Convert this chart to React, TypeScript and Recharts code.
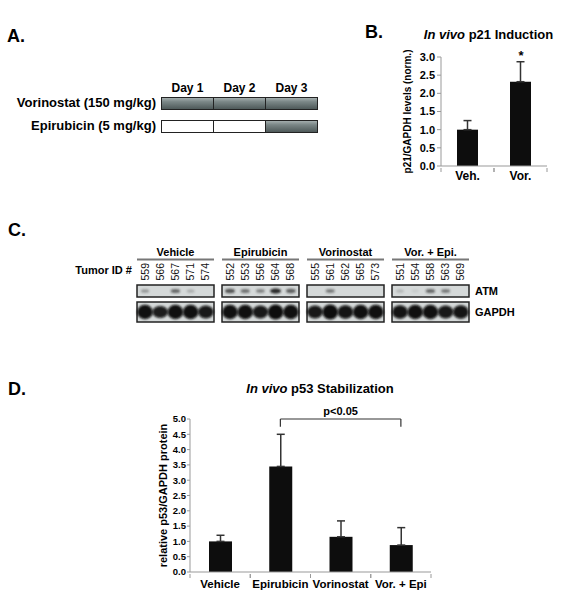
import React from 'react';
import { BarChart, Bar, XAxis, YAxis, ErrorBar, ReferenceLine } from 'recharts';

const FONT = '"Liberation Sans", Arial, Helvetica, sans-serif';

// panel A - dosing schedule
const days = ['Day 1', 'Day 2', 'Day 3'];
const regimens = ['Vorinostat (150 mg/kg)', 'Epirubicin (5 mg/kg)'];
const dosing = [
  [1, 1, 1],
  [0, 0, 1],
];

// panel B - p21 induction
const p21Groups = ['Veh.', 'Vor.'];
const p21Values = [1.0, 2.32];
const p21Errors = [0.25, 0.55];
const p21Ticks = [0, 0.5, 1, 1.5, 2, 2.5, 3];

// panel C - western blot
const blotGroups = ['Vehicle', 'Epirubicin', 'Vorinostat', 'Vor. + Epi.'];
const tumorIds = [
  ['559', '566', '567', '571', '574'],
  ['552', '553', '556', '564', '568'],
  ['555', '561', '562', '565', '573'],
  ['551', '554', '558', '563', '569'],
];
const atmLevels = [
  [0.35, 0, 0.6, 0.25, 0],
  [0.7, 0.55, 0.45, 0.95, 0.65],
  [0, 0.5, 0, 0, 0],
  [0.2, 0.08, 0.6, 0.5, 0],
];
const gapdhLevels = [
  [0.95, 0.8, 0.95, 0.95, 0.85],
  [0.95, 0.95, 0.85, 1, 0.95],
  [0.85, 1, 0.9, 0.95, 0.95],
  [0.9, 0.95, 0.95, 0.85, 0.9],
];

// panel D - p53 stabilization
const p53Groups = ['Vehicle', 'Epirubicin', 'Vorinostat', 'Vor. + Epi'];
const p53Values = [1.0, 3.45, 1.15, 0.88];
const p53Errors = [0.2, 1.05, 0.52, 0.57];
const p53Ticks = [0, 0.5, 1, 1.5, 2, 2.5, 3, 3.5, 4, 4.5, 5];

const p21Data = p21Groups.map((g, i) => ({ group: g, value: p21Values[i], err: [0, p21Errors[i]] }));
const p53Data = p53Groups.map((g, i) => ({ group: g, value: p53Values[i], err: [0, p53Errors[i]] }));

const blotBoxes = [137, 222, 307, 392];
const BOX_W = 77;

function CatTick(props: any) {
  const { x, y, payload, fs, dy, band } = props;
  const half = typeof payload?.offset === 'number' && payload.offset > 0 ? payload.offset : band / 2;
  return (
    <g>
      <line x1={x - half} x2={x - half} y1={y} y2={y + 4} stroke="#999" />
      <line x1={x + half} x2={x + half} y1={y} y2={y + 4} stroke="#999" />
      <text x={x} y={y + dy} textAnchor="middle" fontSize={fs} fontWeight="bold" fontFamily={FONT} fill="#000">
        {payload.value}
      </text>
    </g>
  );
}

const fmt = (v: number) => v.toFixed(1);

function Overlay() {
  return (
    <svg width={572} height={601} style={{ position: 'absolute', left: 0, top: 0 }} fontFamily={FONT}>
      <defs>
        <linearGradient id="dose" x1="0" y1="0" x2="0" y2="1">
          <stop offset="0%" stopColor="#a9b3b3" />
          <stop offset="35%" stopColor="#7b8787" />
          <stop offset="100%" stopColor="#4b5656" />
        </linearGradient>
        <filter id="soft" x="-50%" y="-50%" width="200%" height="200%">
          <feGaussianBlur stdDeviation="0.8" />
        </filter>
      </defs>

      {/* panel letters */}
      <g fontSize={18} fontWeight="bold" fill="#000">
        <text x={7} y={42}>A.</text>
        <text x={365} y={38}>B.</text>
        <text x={8} y={236}>C.</text>
        <text x={8} y={395}>D.</text>
      </g>

      {/* A: schedule */}
      <g fontWeight="bold" fill="#000">
        {days.map((d, i) => (
          <text key={d} x={187.5 + i * 52} y={92} fontSize={12} textAnchor="middle">{d}</text>
        ))}
        {regimens.map((r, ri) => {
          const y0 = ri === 0 ? 97.5 : 120.5;
          return (
            <g key={r}>
              <text x={156} y={y0 + 9.2} fontSize={13} textAnchor="end">{r}</text>
              {dosing[ri].map((on, di) => (
                <rect key={di} x={161.5 + di * 52} y={y0} width={52} height={12}
                  fill={on ? 'url(#dose)' : '#fff'} stroke="#222" strokeWidth={1} />
              ))}
            </g>
          );
        })}
      </g>

      {/* B: title, y label, significance */}
      <text x={488.5} y={38.5} fontSize={13} fontWeight="bold" textAnchor="middle">
        <tspan fontStyle="italic">In vivo</tspan> p21 Induction
      </text>
      <text transform="translate(411,111.5) rotate(-90)" fontSize={10} fontWeight="bold" textAnchor="middle">
        p21/GAPDH levels (norm.)
      </text>
      <text x={521} y={60} fontSize={13} fontWeight="bold" textAnchor="middle">*</text>

      {/* C: blot */}
      <text x={132} y={274} fontSize={11} fontWeight="bold" textAnchor="end">Tumor ID #</text>
      {blotGroups.map((g, gi) => {
        const bx = blotBoxes[gi];
        return (
          <g key={g}>
            <text x={bx + BOX_W / 2} y={255.5} fontSize={11} fontWeight="bold" textAnchor="middle">{g}</text>
            <line x1={bx} x2={bx + BOX_W} y1={259.5} y2={259.5} stroke="#777" strokeWidth={2} />
            {tumorIds[gi].map((id, li) => {
              const cx = bx + 8 + li * 15.2;
              return (
                <text key={id} transform={`translate(${cx + 3.6},280.5) rotate(-90)`} fontSize={10.5} fill="#111">{id}</text>
              );
            })}
            <rect x={bx} y={285} width={BOX_W} height={12} fill="#d5d9d9" stroke="#222" strokeWidth={1.5} />
            {atmLevels[gi].map((v, li) =>
              v > 0 ? (
                <ellipse key={li} cx={bx + 8 + li * 15.2} cy={291} rx={3.5 + v * 2} ry={1.3 + v * 1.3}
                  fill="#1a1a1a" opacity={v} filter="url(#soft)" />
              ) : null
            )}
            <rect x={bx} y={302} width={BOX_W} height={20} fill="#d5d9d9" stroke="#222" strokeWidth={1.5} />
            {gapdhLevels[gi].map((v, li) => (
              <ellipse key={li} cx={bx + 8 + li * 15.2} cy={312} rx={7.9} ry={7.6 * v}
                fill="#080808" opacity={0.6 + 0.4 * v} filter="url(#soft)" />
            ))}
          </g>
        );
      })}
      <text x={475} y={295} fontSize={11} fontWeight="bold">ATM</text>
      <text x={475} y={316} fontSize={11} fontWeight="bold">GAPDH</text>

      {/* D: title, y label */}
      <text x={320} y={392.5} fontSize={13} fontWeight="bold" textAnchor="middle">
        <tspan fontStyle="italic">In vivo</tspan> p53 Stabilization
      </text>
      <text transform="translate(167,495.5) rotate(-90)" fontSize={11} fontWeight="bold" textAnchor="middle">
        relative p53/GAPDH protein
      </text>
    </svg>
  );
}

export default function App() {
  return (
    <div style={{ position: 'absolute', left: 0, top: 0, width: 572, height: 601, background: '#fff', fontFamily: FONT }}>
      <Overlay />

      <div style={{ position: 'absolute', left: 381, top: 40 }}>
        <BarChart width={176} height={160} data={p21Data} margin={{ top: 17, right: 10, left: 0, bottom: 0 }}>
          <XAxis dataKey="group" height={34} interval={0} tickSize={0} tickLine={false}
            axisLine={{ stroke: '#999' }} tick={<CatTick fs={12} dy={12} band={53} />} />
          <YAxis width={60} domain={[0, 3]} ticks={p21Ticks} interval={0} tickFormatter={fmt}
            tickSize={4} tickMargin={2} axisLine={{ stroke: '#999' }} tickLine={{ stroke: '#999' }}
            tick={{ fontSize: 11, fontWeight: 'bold', fill: '#000', fontFamily: FONT }} />
          <Bar dataKey="value" fill="#0d0d0d" barSize={21} isAnimationActive={false}>
            <ErrorBar dataKey="err" width={4} stroke="#333" strokeWidth={1.5} direction="y" />
          </Bar>
        </BarChart>
      </div>

      <div style={{ position: 'absolute', left: 118, top: 400 }}>
        <BarChart width={328} height={200} data={p53Data} margin={{ top: 19, right: 15, left: 0, bottom: 0 }}>
          <XAxis dataKey="group" height={28} interval={0} tickSize={0} tickLine={false}
            axisLine={{ stroke: '#999' }} tick={<CatTick fs={11.5} dy={14} band={60.25} />} />
          <YAxis width={72} domain={[0, 5]} ticks={p53Ticks} interval={0} tickFormatter={fmt}
            tickSize={3} tickMargin={1} axisLine={{ stroke: '#999' }} tickLine={{ stroke: '#999' }}
            tick={{ fontSize: 9.5, fontWeight: 'bold', fill: '#000', fontFamily: FONT }} />
          <Bar dataKey="value" fill="#0d0d0d" barSize={23} isAnimationActive={false}>
            <ErrorBar dataKey="err" width={4} stroke="#333" strokeWidth={1.5} direction="y" />
          </Bar>
          <ReferenceLine segment={[{ x: 'Epirubicin', y: 5 }, { x: 'Vor. + Epi', y: 5 }]} stroke="#333"
            strokeWidth={1.2} ifOverflow="visible"
            label={{ value: 'p<0.05', position: 'top', offset: 4, fontSize: 11, fontWeight: 'bold', fill: '#000', fontFamily: FONT }} />
          <ReferenceLine segment={[{ x: 'Epirubicin', y: 5 }, { x: 'Epirubicin', y: 4.75 }]} stroke="#333"
            strokeWidth={1.2} ifOverflow="visible" />
          <ReferenceLine segment={[{ x: 'Vor. + Epi', y: 5 }, { x: 'Vor. + Epi', y: 4.75 }]} stroke="#333"
            strokeWidth={1.2} ifOverflow="visible" />
        </BarChart>
      </div>
    </div>
  );
}
